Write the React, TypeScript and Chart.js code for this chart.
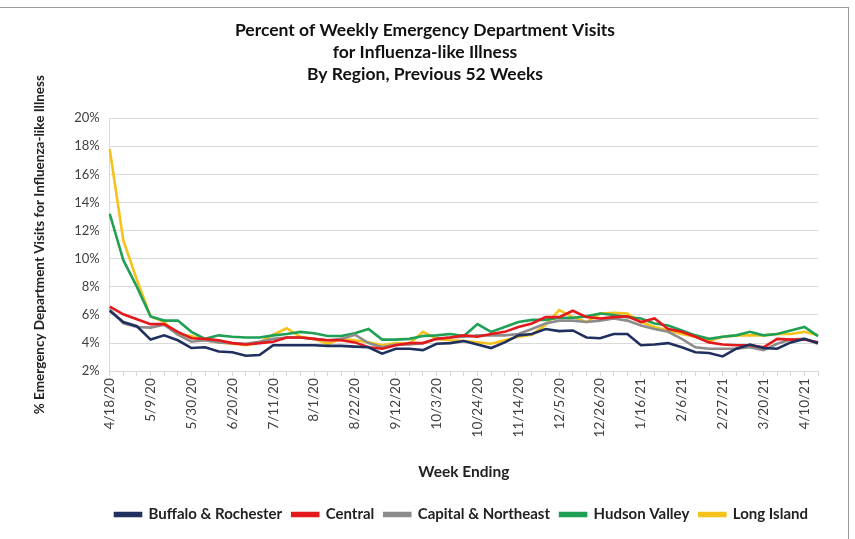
import React, { useEffect, useRef } from "react";
import { Chart, registerables } from "chart.js";

Chart.register(...registerables);

const weeks = [
  "4/18/20", "4/25/20", "5/2/20", "5/9/20", "5/16/20", "5/23/20", "5/30/20", "6/6/20", "6/13/20", "6/20/20",
  "6/27/20", "7/4/20", "7/11/20", "7/18/20", "7/25/20", "8/1/20", "8/8/20", "8/15/20", "8/22/20", "8/29/20",
  "9/5/20", "9/12/20", "9/19/20", "9/26/20", "10/3/20", "10/10/20", "10/17/20", "10/24/20", "10/31/20", "11/7/20",
  "11/14/20", "11/21/20", "11/28/20", "12/5/20", "12/12/20", "12/19/20", "12/26/20", "1/2/21", "1/9/21", "1/16/21",
  "1/23/21", "1/30/21", "2/6/21", "2/13/21", "2/20/21", "2/27/21", "3/6/21", "3/13/21", "3/20/21", "3/27/21",
  "4/3/21", "4/10/21", "4/17/21",
];

const buffaloRochester = [
  6.3, 5.5, 5.2, 4.25, 4.55, 4.2, 3.65, 3.7, 3.4, 3.35, 3.1, 3.15, 3.85,
  3.85, 3.85, 3.85, 3.8, 3.8, 3.75, 3.7, 3.25, 3.6, 3.6, 3.5, 3.95, 4.0,
  4.15, 3.9, 3.65, 4.05, 4.55, 4.65, 5.0, 4.85, 4.9, 4.4, 4.35, 4.65, 4.65,
  3.85, 3.9, 4.0, 3.7, 3.35, 3.3, 3.05, 3.6, 3.9, 3.65, 3.6, 4.05, 4.3, 4.0,
];

const central = [
  6.6, 6.05, 5.7, 5.35, 5.35, 4.8, 4.35, 4.3, 4.2, 4.0, 3.9, 4.0, 4.1,
  4.4, 4.4, 4.3, 4.2, 4.2, 4.05, 3.7, 3.6, 3.85, 4.0, 4.0, 4.3, 4.4,
  4.55, 4.45, 4.65, 4.8, 5.15, 5.4, 5.85, 5.85, 6.3, 5.85, 5.75, 5.85, 5.9,
  5.5, 5.75, 5.0, 4.8, 4.45, 4.05, 3.9, 3.85, 3.85, 3.7, 4.3, 4.25, 4.25, 4.05,
];

const capitalNortheast = [
  6.4, 5.4, 5.15, 5.1, 5.3, 4.6, 4.1, 4.2, 4.05, 4.0, 3.95, 4.1, 4.3,
  4.4, 4.4, 4.3, 4.2, 4.3, 4.6, 4.0, 3.7, 3.9, 3.9, 4.0, 4.3, 4.4,
  4.45, 4.55, 4.55, 4.55, 4.65, 5.0, 5.4, 5.6, 5.6, 5.5, 5.6, 5.75, 5.6,
  5.25, 5.0, 4.8, 4.3, 3.7, 3.6, 3.6, 3.6, 3.7, 3.5, 3.95, 4.25, 4.3, 3.95,
];

const hudsonValley = [
  13.2, 9.9, 8.0, 5.9, 5.6, 5.6, 4.8, 4.3, 4.55, 4.45, 4.4, 4.4, 4.55,
  4.65, 4.8, 4.7, 4.5, 4.5, 4.7, 5.0, 4.25, 4.25, 4.3, 4.5, 4.55, 4.65,
  4.5, 5.35, 4.8, 5.15, 5.5, 5.65, 5.65, 5.8, 5.8, 5.9, 6.1, 6.0, 5.85,
  5.75, 5.4, 5.25, 4.9, 4.55, 4.3, 4.45, 4.55, 4.8, 4.55, 4.65, 4.9, 5.15, 4.5,
];

const longIsland = [
  17.8, 11.3, 8.5, 5.9, 5.5, 4.6, 4.5, 4.2, 4.05, 3.95, 3.85, 4.05, 4.6,
  5.05, 4.45, 4.3, 3.95, 4.3, 4.2, 4.05, 3.85, 4.0, 3.95, 4.8, 4.3, 4.2,
  4.15, 4.05, 3.95, 4.2, 4.45, 4.6, 5.3, 6.35, 5.85, 5.5, 6.1, 6.15, 6.1,
  5.5, 5.15, 4.9, 4.65, 4.45, 4.15, 4.45, 4.55, 4.55, 4.55, 4.65, 4.65, 4.8, 4.55,
];

const seriesNames = ["Buffalo & Rochester", "Central", "Capital & Northeast", "Hudson Valley", "Long Island"];
const seriesColors = ["#1f2f5e", "#e3191c", "#8c8c8c", "#1fa055", "#f5c21b"];

const titleLines = [
  "Percent of Weekly Emergency Department Visits",
  "for Influenza-like Illness",
  "By Region, Previous 52 Weeks",
];
const yTitle = "% Emergency Department Visits for Influenza-like Illness";
const xTitle = "Week Ending";

export default function App() {
  const canvasRef = useRef<HTMLCanvasElement | null>(null);

  useEffect(() => {
    if (!canvasRef.current) return;
    const seriesData = [buffaloRochester, central, capitalNortheast, hudsonValley, longIsland];
    const font = "Lato, 'Open Sans', sans-serif";
    const chart = new Chart(canvasRef.current, {
      type: "line",
      data: {
        labels: weeks,
        datasets: seriesNames.map((name, i) => ({
          label: name,
          data: seriesData[i],
          borderColor: seriesColors[i],
          backgroundColor: seriesColors[i],
          borderWidth: 2.6,
          pointRadius: 0,
          tension: 0,
          fill: false,
        })),
      },
      options: {
        responsive: false,
        animation: false,
        maintainAspectRatio: false,
        layout: { padding: { top: 9, left: 32, right: 37, bottom: 7 } },
        plugins: {
          title: {
            display: true,
            text: titleLines,
            color: "#111",
            font: { family: font, size: 17.5, weight: "bold", lineHeight: 1.26 },
            padding: { top: 10, bottom: 33 },
          },
          legend: {
            position: "bottom",
            align: "end",
            labels: {
              boxWidth: 26,
              boxHeight: 3,
              padding: 10,
              color: "#222",
              font: { family: font, size: 15, weight: "bold" },
            },
          },
          tooltip: { enabled: false },
        },
        scales: {
          x: {
            type: "category",
            offset: false,
            grid: {
              drawOnChartArea: false,
              drawTicks: true,
              tickLength: 5,
              color: "#d9d9d9",
            },
            border: { color: "#d9d9d9" },
            ticks: {
              autoSkip: false,
              maxRotation: 90,
              minRotation: 90,
              color: "#404040",
              font: { family: font, size: 13.5 },
              padding: 2,
              callback: (_v: any, idx: number) => (idx % 3 === 0 ? weeks[idx] : ""),
            },
            title: {
              display: true,
              text: xTitle,
              color: "#222",
              font: { family: font, size: 15.5, weight: "bold" },
              padding: { top: 23, bottom: 16 },
            },
          },
          y: {
            min: 2,
            max: 20,
            grid: { color: "#d9d9d9", drawTicks: false },
            border: { color: "#d9d9d9" },
            ticks: {
              stepSize: 2,
              color: "#404040",
              font: { family: font, size: 13 },
              padding: 10,
              callback: (v: any) => `${v}%`,
            },
            title: {
              display: true,
              text: yTitle,
              color: "#222",
              font: { family: font, size: 13.5, weight: "bold" },
              padding: { top: 0, bottom: 16 },
            },
          },
        },
      },
    });
    return () => chart.destroy();
  }, []);

  return (
    <div style={{ position: "absolute", left: 0, top: 0, width: 855, height: 539, background: "#fff" }}>
      <canvas ref={canvasRef} width={855} height={539} style={{ position: "absolute", left: 0, top: 0 }} />
      <div
        style={{
          position: "absolute",
          left: 0,
          top: 7,
          width: 848,
          height: 540,
          borderTop: "1px solid #9a9a9a",
          borderRight: "1px solid #9a9a9a",
          pointerEvents: "none",
        }}
      />
    </div>
  );
}
